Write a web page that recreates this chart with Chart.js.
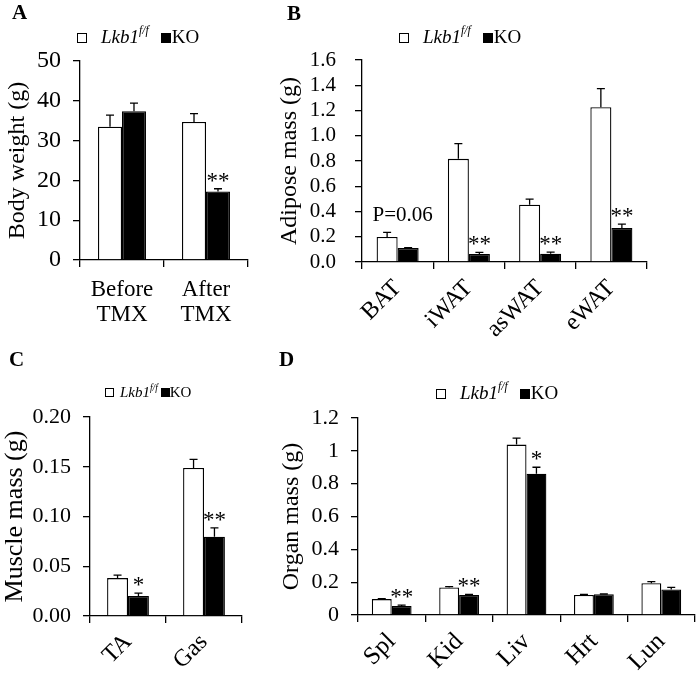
<!DOCTYPE html>
<html>
<head>
<meta charset="utf-8">
<script src="https://cdn.jsdelivr.net/npm/chart.js@4.4.0/dist/chart.umd.min.js"></script>
<style>
  body { margin: 0; background: #fff; }
  #wrap { position: relative; width: 697px; height: 674px; font-family: 'Liberation Serif', 'Times New Roman', serif; color: #000; }
  canvas { position: absolute; }
  .tag { position: absolute; font-weight: bold; font-size: 21px; line-height: 1; }
  .leg { position: absolute; font-size: 19px; line-height: 1; white-space: nowrap; }
  .leg .box { display: inline-block; width: 8px; height: 8px; border: 1.3px solid #000; background: #fff; margin-right: 14px; }
  .leg .box.ko { background: #000; margin-left: 12px; margin-right: 1px; }
  .leg sup { font-size: 0.62em; font-style: italic; position: relative; top: -0.15em; vertical-align: top; }
  .leg.small { font-size: 15px; }
  .leg.small .box { width: 7px; height: 7px; margin-right: 6px; }
  .leg.small .box.ko { margin-left: 3px; margin-right: 0; }
</style>
</head>
<body>
<div id="wrap">
  <canvas id="cA" width="275" height="337" style="left:0;top:0"></canvas>
  <canvas id="cB" width="422" height="340" style="left:275px;top:0"></canvas>
  <canvas id="cC" width="275" height="334" style="left:0;top:340px"></canvas>
  <canvas id="cD" width="422" height="334" style="left:275px;top:340px"></canvas>

  <div class="tag" style="left:12px;top:2px">A</div>
  <div class="tag" style="left:287px;top:3px">B</div>
  <div class="tag" style="left:9px;top:349px">C</div>
  <div class="tag" style="left:279px;top:349px">D</div>

  <div class="leg" style="left:77px;top:27px"><span class="box"></span><i>Lkb1</i><sup>f/f</sup><span class="box ko"></span>KO</div>
  <div class="leg" style="left:399px;top:27px"><span class="box"></span><i>Lkb1</i><sup>f/f</sup><span class="box ko"></span>KO</div>
  <div class="leg small" style="left:105px;top:385px"><span class="box"></span><i>Lkb1</i><sup>f/f</sup><span class="box ko"></span>KO</div>
  <div class="leg" style="left:436px;top:383px"><span class="box"></span><i>Lkb1</i><sup>f/f</sup><span class="box ko"></span>KO</div>
</div>

<script>
// A - body weight
const catsA = [["Before", "TMX"], ["After", "TMX"]];
const flA = [33.5, 34.7];
const flErrA = [2.9, 2.1];
const koA = [37.4, 17.2];
const koErrA = [2.0, 0.7];
const starsA = ["", "**"];

// B - adipose mass
const catsB = ["BAT", "iWAT", "asWAT", "eWAT"];
const flB = [0.198, 0.817, 0.453, 1.226];
const flErrB = [0.037, 0.121, 0.045, 0.147];
const koB = [0.110, 0.063, 0.066, 0.269];
const koErrB = [0.003, 0.013, 0.013, 0.031];
const starsB = ["", "**", "**", "**"];
const notesB = ["P=0.06", "", "", ""];

// C - muscle mass
const catsC = ["TA", "Gas"];
const flC = [0.0381, 0.1488];
const flErrC = [0.003, 0.0087];
const koC = [0.0201, 0.0796];
const koErrC = [0.0029, 0.009];
const starsC = ["*", "**"];

// D - organ mass
const catsD = ["Spl", "Kid", "Liv", "Hrt", "Lun"];
const flD = [0.097, 0.168, 1.038, 0.122, 0.193];
const flErrD = [0.003, 0.005, 0.040, 0.003, 0.010];
const koD = [0.055, 0.122, 0.861, 0.126, 0.156];
const koErrD = [0.005, 0.004, 0.039, 0.002, 0.012];
const starsD = ["**", "**", "*", "", ""];

const FONT = "'Liberation Serif', 'Times New Roman', serif";

// error bars (upper only) + significance marks
const errorBars = {
  id: "errorBars",
  afterDatasetsDraw(chart, args, opts) {
    const ctx = chart.ctx;
    const y = chart.scales.y;
    const tops = [];
    ctx.save();
    ctx.strokeStyle = "#000";
    ctx.fillStyle = "#000";
    ctx.lineWidth = 1.3;
    chart.data.datasets.forEach((ds, i) => {
      const errs = opts.errors[i];
      const stars = opts.stars[i] || [];
      chart.getDatasetMeta(i).data.forEach((bar, j) => {
        const top = y.getPixelForValue(ds.data[j] + errs[j]);
        tops[j] = Math.min(tops[j] ?? Infinity, top);
        ctx.beginPath();
        ctx.moveTo(bar.x, bar.y);
        ctx.lineTo(bar.x, top);
        ctx.moveTo(bar.x - 4, top);
        ctx.lineTo(bar.x + 4, top);
        ctx.stroke();
        if (stars[j]) {
          ctx.font = "23px " + FONT;
          ctx.textAlign = "center";
          ctx.textBaseline = "alphabetic";
          ctx.fillText(stars[j], bar.x, top - 1);
        }
      });
    });
    (opts.notes || []).forEach((txt, j) => {
      if (!txt) return;
      ctx.font = "21px " + FONT;
      ctx.textAlign = "center";
      ctx.textBaseline = "alphabetic";
      ctx.fillText(txt, chart.scales.x.getPixelForValue(j) + 5, tops[j] - 11);
    });
    ctx.restore();
  }
};

function painel(id, cfg) {
  const ctx = document.getElementById(id).getContext("2d");
  return new Chart(ctx, {
    type: "bar",
    data: {
      labels: cfg.labels,
      datasets: [
        { label: "Lkb1 f/f", data: cfg.fl, backgroundColor: "#fff", borderColor: "#000", borderWidth: 1.3 },
        { label: "KO", data: cfg.ko, backgroundColor: "#000", borderColor: "#000", borderWidth: 1.3 }
      ]
    },
    options: {
      responsive: false,
      animation: false,
      devicePixelRatio: 1,
      layout: { padding: cfg.padding },
      datasets: { bar: { categoryPercentage: cfg.catPct, barPercentage: 1 } },
      plugins: {
        legend: { display: false },
        tooltip: { enabled: false },
        errorBars: { errors: [cfg.flErr, cfg.koErr], stars: [[], cfg.stars], notes: cfg.notes }
      },
      scales: {
        x: {
          grid: { offset: true, drawOnChartArea: false, color: "#000", lineWidth: 1.3, tickLength: 7 },
          border: { color: "#000", width: 1.3 },
          ticks: {
            color: "#000",
            font: { family: FONT, size: cfg.xFont, lineHeight: 1.1 },
            autoSkip: false,
            minRotation: cfg.rot,
            maxRotation: cfg.rot,
            padding: cfg.xPad
          },
          afterFit: (s) => { s.height = cfg.xHeight; }
        },
        y: {
          min: 0,
          max: cfg.max,
          grid: { drawOnChartArea: false, color: "#000", lineWidth: 1.3, tickLength: 7 },
          border: { color: "#000", width: 1.3 },
          ticks: {
            stepSize: cfg.step,
            autoSkip: false,
            color: "#000",
            font: { family: FONT, size: cfg.yFont },
            padding: cfg.yPad,
            callback: cfg.fmt
          },
          title: {
            display: true,
            text: cfg.title,
            color: "#000",
            font: { family: FONT, size: cfg.titleSize, lineHeight: 1 },
            padding: 0
          },
          afterFit: (s) => { s.width = cfg.yWidth; }
        }
      }
    },
    plugins: [errorBars]
  });
}

painel("cA", {
  labels: catsA, fl: flA, flErr: flErrA, ko: koA, koErr: koErrA, stars: starsA,
  max: 50, step: 10, fmt: (v) => v.toFixed(0),
  title: "Body weight (g)", titleSize: 24, yFont: 24, yPad: 12, yWidth: 74,
  xFont: 23, xPad: 10, rot: 0, xHeight: 77, catPct: 0.571,
  padding: { left: 6, top: 61, right: 27, bottom: 0 }
});

painel("cB", {
  labels: catsB, fl: flB, flErr: flErrB, ko: koB, koErr: koErrB, stars: starsB, notes: notesB,
  max: 1.6, step: 0.2, fmt: (v) => v.toFixed(1),
  title: "Adipose mass (g)", titleSize: 24, yFont: 21, yPad: 19, yWidth: 84,
  xFont: 24, xPad: 6, rot: 45, xHeight: 78, catPct: 0.59,
  padding: { left: 3, top: 60, right: 50, bottom: 0 }
});

painel("cC", {
  labels: catsC, fl: flC, flErr: flErrC, ko: koC, koErr: koErrC, stars: starsC,
  max: 0.2, step: 0.05, fmt: (v) => v.toFixed(2),
  title: "Muscle mass (g)", titleSize: 26, yFont: 22, yPad: 12, yWidth: 88,
  xFont: 24, xPad: 6, rot: 45, xHeight: 58, catPct: 0.55,
  padding: { left: 2, top: 77, right: 33, bottom: 0 }
});

painel("cD", {
  labels: catsD, fl: flD, flErr: flErrD, ko: koD, koErr: koErrD, stars: starsD,
  max: 1.2, step: 0.2, fmt: (v) => String(Number(v.toFixed(1))),
  title: "Organ mass (g)", titleSize: 24, yFont: 22, yPad: 12, yWidth: 78,
  xFont: 25, xPad: 6, rot: 45, xHeight: 59, catPct: 0.59,
  padding: { left: 5, top: 78, right: 2, bottom: 0 }
});
</script>
</body>
</html>
